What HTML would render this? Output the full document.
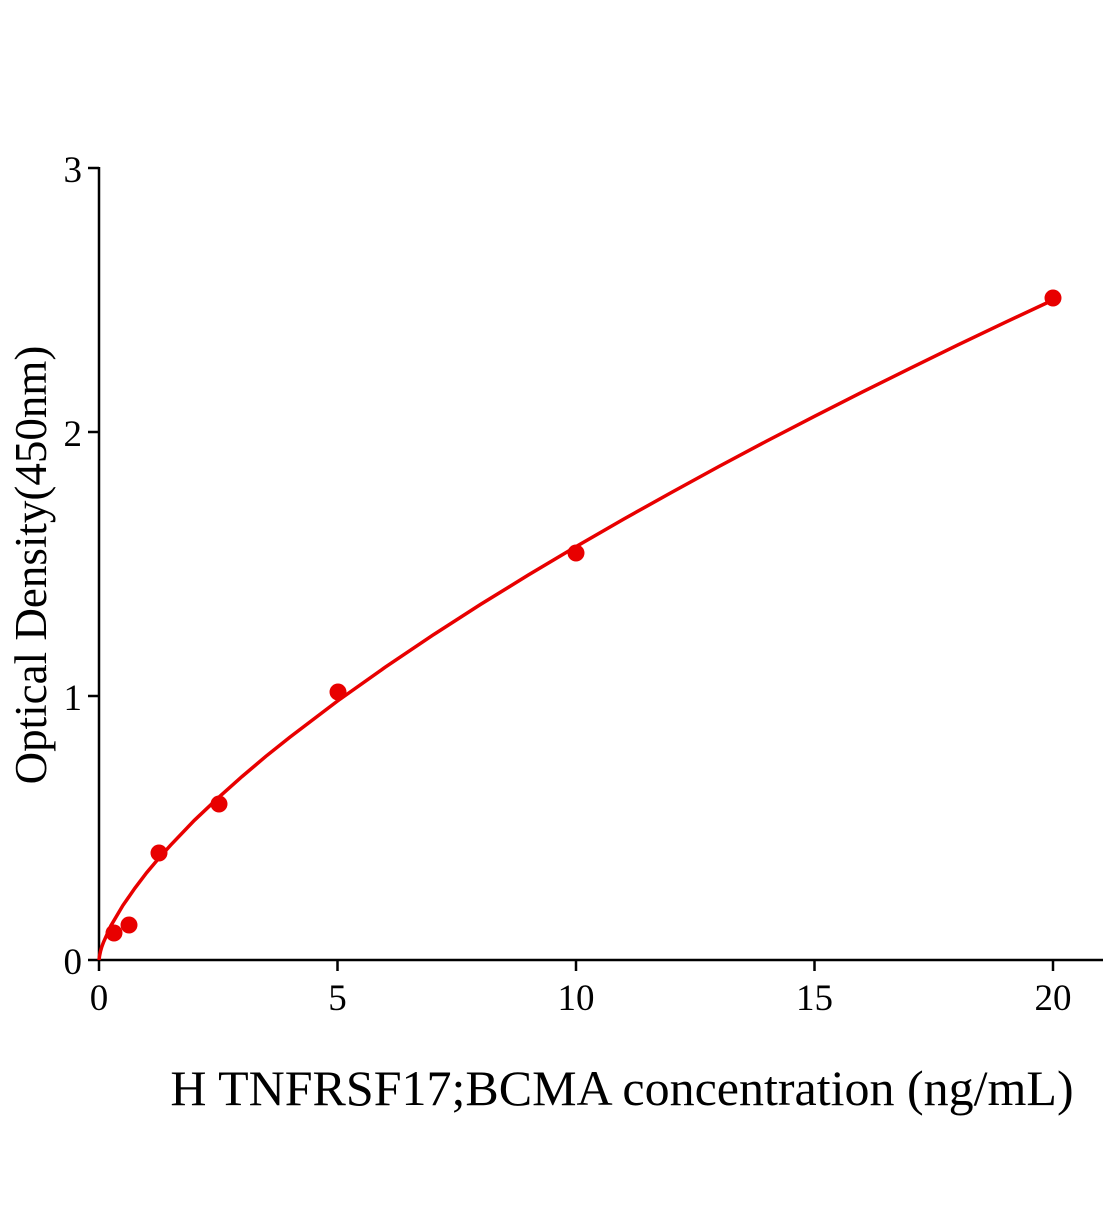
<!DOCTYPE html>
<html><head><meta charset="utf-8"><style>body{margin:0;background:#fff}</style></head>
<body>
<svg width="1104" height="1200" xmlns="http://www.w3.org/2000/svg" font-family="Liberation Serif, serif">
<rect width="1104" height="1200" fill="#fff"/>
<g stroke="#000" stroke-width="2.5" fill="none">
<line x1="99" y1="167" x2="99" y2="961"/>
<line x1="98" y1="960" x2="1103" y2="960"/>
<line x1="88" y1="168" x2="99" y2="168"/>
<line x1="88" y1="432" x2="99" y2="432"/>
<line x1="88" y1="696" x2="99" y2="696"/>
<line x1="88" y1="960" x2="99" y2="960"/>
<line x1="99" y1="960" x2="99" y2="971"/>
<line x1="337.5" y1="960" x2="337.5" y2="971"/>
<line x1="576" y1="960" x2="576" y2="971"/>
<line x1="814.5" y1="960" x2="814.5" y2="971"/>
<line x1="1053" y1="960" x2="1053" y2="971"/>
</g>
<g font-size="37" text-anchor="end">
<text x="82" y="182">3</text><text x="82" y="446">2</text><text x="82" y="710">1</text><text x="82" y="974">0</text>
</g>
<g font-size="37" text-anchor="middle">
<text x="99" y="1010">0</text><text x="337.5" y="1010">5</text><text x="576" y="1010">10</text><text x="814.5" y="1010">15</text><text x="1053" y="1010">20</text>
</g>
<text x="0" y="0" font-size="45" text-anchor="middle" transform="translate(46,565) rotate(-90)">Optical Density(450nm)</text>
<text x="622" y="1105" font-size="50" text-anchor="middle">H TNFRSF17;BCMA concentration (ng/mL)</text>
<path fill="none" stroke="#e80000" stroke-width="3.5" d="M99,960 C100,950 102,946 103.8,941.5 L110.9,925.7 L122.9,905.4 L134.8,888.3 L146.7,872.6 L158.6,858.5 L170.6,845.2 L194.4,820.3 L218.2,797.8 L242.1,776.5 L265.9,756.3 L289.8,737.2 L337.5,701 L385.2,667.2 L432.9,635.1 L480.6,604.4 L528.3,575 L576,546.6 L623.7,519.1 L671.4,492.5 L719.1,466.4 L766.8,441 L814.5,416.3 L862.2,392.1 L909.9,368.4 L957.6,345.1 L1005.3,322.3 L1053,300"/>
<g fill="#e80000">
<circle cx="114" cy="933" r="8.5"/><circle cx="129" cy="925" r="8.5"/><circle cx="159" cy="853" r="8.5"/><circle cx="219" cy="804" r="8.5"/><circle cx="338" cy="692" r="8.5"/><circle cx="576" cy="553" r="8.5"/><circle cx="1053" cy="298" r="8.5"/>
</g>
</svg>
</body></html>
